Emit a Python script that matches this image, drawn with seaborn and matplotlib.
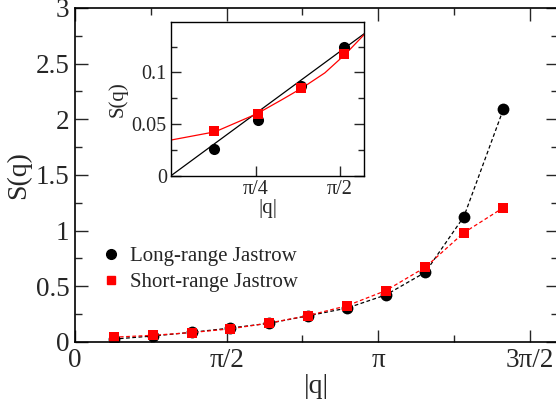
import numpy as np
import pandas as pd
import seaborn as sns
import matplotlib
matplotlib.use("Agg")
import matplotlib.pyplot as plt
from matplotlib.lines import Line2D
from matplotlib.ticker import FixedLocator, MultipleLocator

sns.set_theme(style="ticks")
plt.rcParams['font.family'] = ['Liberation Serif', 'DejaVu Serif']
plt.rcParams['mathtext.fontset'] = 'stix'

# ---- data ----
q = [0.40, 0.81, 1.21, 1.61, 2.01, 2.41, 2.82, 3.22, 3.63, 4.03, 4.44]
s_long = [0.026, 0.054, 0.087, 0.125, 0.168, 0.234, 0.305, 0.422, 0.626, 1.126, 2.093]
s_short = [0.043, 0.060, 0.085, 0.118, 0.170, 0.236, 0.326, 0.461, 0.671, 0.982, 1.207]

# inset fit curves
fit_long_x = [0.0, 1.80]
fit_long_y = [0.0, 0.1377]
fit_short_x = [0.0, 0.41, 0.80, 1.03, 1.22, 1.43, 1.62, 1.80]
fit_short_y = [0.0345, 0.0425, 0.0600, 0.0735, 0.0850, 0.0995, 0.1175, 0.1370]

xtick_vals = [0, np.pi / 2, np.pi, 3 * np.pi / 2]
xtick_labels = ['0', 'π/2', 'π', '3π/2']
inset_xtick_vals = [np.pi / 4, np.pi / 2]
inset_xtick_labels = ['π/4', 'π/2']
legend_labels = ['Long-range Jastrow', 'Short-range Jastrow']

df_long = pd.DataFrame({'q': q, 'S': s_long})
df_short = pd.DataFrame({'q': q, 'S': s_short})

fig = plt.figure(figsize=(5.56, 4.04), dpi=100)
ax = fig.add_axes([0.1349, 0.1535, 0.8678, 0.8267])

sns.lineplot(data=df_long, x='q', y='S', ax=ax, color='black', linestyle=(0, (3, 2)),
             linewidth=0.9, marker='o', markersize=8.5, markeredgewidth=0, sort=False)
sns.lineplot(data=df_short, x='q', y='S', ax=ax, color='red', linestyle=(0, (3, 2)),
             linewidth=0.9, marker='s', markersize=7, markeredgewidth=0, sort=False)

ax.set_xlim(0, 5.0)
ax.set_ylim(0, 3)
ax.xaxis.set_major_locator(FixedLocator(xtick_vals))
ax.set_xticklabels(xtick_labels)
ax.xaxis.set_minor_locator(MultipleLocator(np.pi / 4))
ax.set_yticks([0, 0.5, 1, 1.5, 2, 2.5, 3])
ax.set_yticklabels(['0', '0.5', '1', '1.5', '2', '2.5', '3'])
ax.yaxis.set_minor_locator(MultipleLocator(0.25))
ax.tick_params(which='both', direction='in', top=True, right=True, labelsize=19.5, pad=4, width=1.0)
ax.tick_params(which='major', length=9)
ax.tick_params(which='minor', length=5)
for sp in ax.spines.values():
    sp.set_linewidth(1.2)
    sp.set_color('black')
ax.set_xlabel('|q|', fontsize=20, labelpad=1)
ax.set_ylabel('S(q)', fontsize=20, labelpad=3)

handles = [Line2D([], [], color='black', marker='o', linestyle='none', markersize=7),
           Line2D([], [], color='red', marker='s', linestyle='none', markersize=6)]
ax.legend(handles, legend_labels, loc='upper left', bbox_to_anchor=(0.04, 0.31),
          frameon=False, fontsize=15, handlelength=0.8, handletextpad=0.5,
          labelspacing=0.3, borderaxespad=0)

# ---- inset ----
ins = fig.add_axes([0.3076, 0.5651, 0.3477, 0.3812])
ins.set_facecolor('white')
sns.lineplot(x=fit_long_x, y=fit_long_y, ax=ins, color='black', linewidth=0.9, sort=False)
sns.lineplot(x=fit_short_x, y=fit_short_y, ax=ins, color='red', linewidth=0.9, sort=False)
sns.lineplot(x=q, y=s_long, ax=ins, color='black', linestyle='none', marker='o',
             markersize=8, markeredgewidth=0, sort=False)
sns.lineplot(x=q, y=s_short, ax=ins, color='red', linestyle='none', marker='s',
             markersize=7, markeredgewidth=0, sort=False)
ins.set_xlim(0, 1.797)
ins.set_ylim(0, 0.149)
ins.xaxis.set_major_locator(FixedLocator(inset_xtick_vals))
ins.set_xticklabels(inset_xtick_labels)
ins.set_yticks([0, 0.05, 0.1])
ins.set_yticklabels(['0', '0.05', '0.1'])
ins.yaxis.set_minor_locator(MultipleLocator(0.025))
ins.tick_params(which='both', direction='in', right=True, top=False, labelsize=14.5, pad=3, width=1.0)
ins.tick_params(which='major', length=7)
ins.tick_params(which='minor', length=4)
for sp in ins.spines.values():
    sp.set_linewidth(1.0)
    sp.set_color('black')
ins.set_xlabel('|q|', fontsize=15, labelpad=0)
ins.set_ylabel('S(q)', fontsize=15, labelpad=3)

fig.savefig('out.png', dpi=100)
